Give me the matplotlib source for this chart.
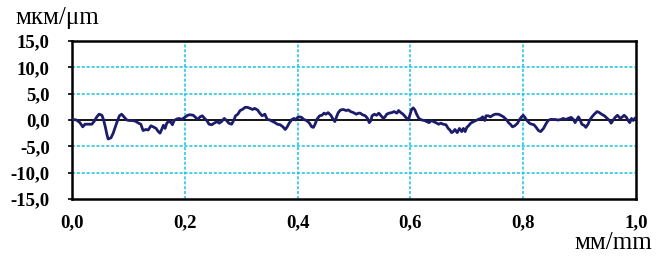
import matplotlib
matplotlib.use("Agg")
import matplotlib.pyplot as plt

# profile data (mm, µm)
x_mm = [0.002, 0.008, 0.014, 0.019, 0.023, 0.029, 0.035, 0.039, 0.044, 0.048,
        0.053, 0.056, 0.059, 0.062, 0.064, 0.069, 0.073, 0.079, 0.084, 0.088,
        0.092, 0.097, 0.102, 0.106, 0.112, 0.118, 0.122, 0.126, 0.131, 0.135,
        0.140, 0.144, 0.149, 0.153, 0.156, 0.159, 0.162, 0.165, 0.168, 0.171,
        0.175, 0.178, 0.181, 0.186, 0.190, 0.194, 0.197, 0.200, 0.205, 0.209,
        0.215, 0.219, 0.223, 0.227, 0.231, 0.235, 0.239, 0.243, 0.248, 0.252,
        0.257, 0.261, 0.265, 0.270, 0.274, 0.278, 0.283, 0.287, 0.290, 0.294,
        0.298, 0.302, 0.307, 0.311, 0.316, 0.320, 0.324, 0.329, 0.333, 0.337,
        0.342, 0.346, 0.351, 0.356, 0.360, 0.364, 0.369, 0.374, 0.378, 0.381,
        0.385, 0.390, 0.394, 0.397, 0.400, 0.403, 0.407, 0.411, 0.416, 0.421,
        0.425, 0.428, 0.431, 0.434, 0.439, 0.443, 0.447, 0.450, 0.454, 0.459,
        0.462, 0.466, 0.469, 0.472, 0.476, 0.481, 0.486, 0.490, 0.494, 0.499,
        0.504, 0.508, 0.511, 0.515, 0.520, 0.524, 0.527, 0.530, 0.532, 0.536,
        0.540, 0.544, 0.548, 0.552, 0.555, 0.558, 0.562, 0.567, 0.571, 0.576,
        0.579, 0.583, 0.587, 0.592, 0.596, 0.599, 0.602, 0.605, 0.608, 0.611,
        0.615, 0.620, 0.625, 0.629, 0.633, 0.637, 0.641, 0.645, 0.650, 0.654,
        0.658, 0.663, 0.667, 0.670, 0.673, 0.676, 0.679, 0.683, 0.687, 0.691,
        0.694, 0.697, 0.700, 0.703, 0.707, 0.712, 0.716, 0.720, 0.725, 0.728,
        0.730, 0.732, 0.734, 0.738, 0.742, 0.746, 0.750, 0.756, 0.760, 0.765,
        0.770, 0.774, 0.778, 0.781, 0.785, 0.790, 0.793, 0.797, 0.800, 0.803,
        0.806, 0.811, 0.815, 0.819, 0.823, 0.827, 0.831, 0.836, 0.840, 0.844,
        0.848, 0.856, 0.862, 0.867, 0.871, 0.875, 0.880, 0.885, 0.889, 0.892,
        0.895, 0.898, 0.901, 0.904, 0.909, 0.911, 0.915, 0.918, 0.922, 0.926,
        0.931, 0.935, 0.939, 0.944, 0.949, 0.953, 0.956, 0.959, 0.963, 0.967,
        0.972, 0.976, 0.979, 0.983, 0.986, 0.989, 0.992, 0.995, 0.998]
y_um = [0.1, 0.0, -0.5, -1.3, -0.8, -0.8, -0.8, -0.3, 0.6, 1.1,
        0.9, 0.0, -1.3, -2.8, -3.6, -3.4, -2.5, -0.6, 0.8, 1.1,
        0.6, 0.0, -0.1, -0.1, -0.2, -0.6, -0.8, -2.0, -1.8, -1.9,
        -1.1, -1.3, -1.6, -2.2, -2.5, -1.8, -1.0, -1.6, -0.6, -0.3,
        -0.4, -0.9, -0.1, 0.2, 0.3, 0.1, 0.3, 0.5, 0.9, 1.0,
        0.9, 0.5, 0.1, 0.6, 0.8, 0.3, -0.1, -0.8, -0.9, -0.6,
        -0.3, -0.6, -0.3, 0.3, -0.1, -0.6, -0.8, 0.0, 0.8, 1.1,
        1.8, 2.0, 2.4, 2.4, 2.2, 2.0, 2.2, 1.9, 1.3, 0.8,
        1.1, 0.1, 0.0, -0.3, -0.5, -0.8, -0.9, -1.3, -1.8, -1.4,
        -0.6, 0.1, 0.3, 0.0, 0.5, 0.6, 0.5, 0.1, -0.1, -0.6,
        -1.3, -1.4, -0.8, 0.1, 0.8, 0.9, 1.3, 1.1, 1.4, 0.9,
        0.3, -0.3, 0.6, 1.4, 1.9, 2.0, 1.8, 1.9, 1.6, 1.4,
        1.1, 1.3, 1.3, 1.0, 0.8, 0.3, -0.5, -0.1, 0.8, 1.1,
        0.9, 1.3, 0.8, 0.3, 0.6, 1.1, 1.3, 1.4, 1.6, 1.3,
        1.8, 1.4, 1.1, 0.5, 0.0, 0.9, 2.0, 2.3, 1.9, 1.1,
        0.3, 0.0, -0.1, -0.3, -0.5, -0.1, -0.3, -0.5, -0.8, -0.6,
        -0.8, -0.9, -1.6, -1.9, -2.4, -2.2, -1.8, -2.4, -1.6, -2.2,
        -1.6, -2.2, -1.4, -1.1, -0.6, -0.3, -0.1, 0.1, 0.3, 0.6,
        0.3, -0.1, 0.8, 0.8, 0.6, 0.9, 1.1, 1.1, 0.9, 0.6,
        0.1, -0.5, -0.9, -1.3, -1.1, -0.6, 0.0, 0.6, 0.9, 0.5,
        0.0, -0.6, -0.8, -0.9, -1.4, -2.0, -2.2, -1.6, -0.8, -0.1,
        0.1, 0.1, 0.0, 0.1, 0.3, 0.1, 0.3, 0.5, 0.1, -0.5,
        0.1, 0.6, 0.0, -0.8, -1.1, -1.4, -0.8, 0.0, 0.6, 1.1,
        1.6, 1.4, 1.1, 0.8, 0.3, -0.1, -0.6, -0.1, 0.5, 0.9,
        0.3, 0.6, 0.9, 0.5, -0.1, -0.5, 0.3, -0.1, 0.3]

x_ticks = [0.0, 0.2, 0.4, 0.6, 0.8, 1.0]
x_labels = ["0,0", "0,2", "0,4", "0,6", "0,8", "1,0"]
y_ticks = [-15, -10, -5, 0, 5, 10, 15]
y_labels = ["-15,0", "-10,0", "-5,0", "0,0", "5,0", "10,0", "15,0"]

serif = ["Liberation Serif", "DejaVu Serif"]
plt.rcParams["font.family"] = serif

fig = plt.figure(figsize=(6.65, 2.56), dpi=100)
ax = fig.add_axes([0.1083, 0.2227, 0.8481, 0.6171])

ax.set_xlim(0, 1.0)
ax.set_ylim(-15, 15)

grid_color = "#19c3e0"
for gx in x_ticks[1:-1]:
    ax.axvline(gx, color=grid_color, lw=1.1, ls=(0, (2, 1.2)), zorder=1)
for gy in y_ticks:
    if gy not in (0, -15, 15):
        ax.axhline(gy, color=grid_color, lw=1.1, ls=(0, (2, 1.2)), zorder=1)
ax.axhline(0, color="black", lw=1.3, zorder=2)

ax.plot(x_mm, y_um, color="#1c1c6b", lw=2.0, zorder=3, solid_joinstyle="round")

ax.set_xticks(x_ticks)
ax.set_xticklabels(x_labels, fontsize=13.5, fontweight="bold")
ax.set_yticks(y_ticks)
ax.set_yticklabels(y_labels, fontsize=13.5, fontweight="bold")
ax.tick_params(axis="x", length=0, pad=11)
ax.tick_params(axis="y", length=3, width=1.2, pad=13, direction="out")

for sp in ax.spines.values():
    sp.set_linewidth(1.8)
    sp.set_color("black")

fig.text(15 / 665, 1 - 18 / 256, "мкм/μm", fontsize=18, ha="left", va="center")
fig.text(652 / 665, 1 - 243 / 256, "мм/mm", fontsize=18, ha="right", va="center")

fig.savefig("out.png", dpi=100, facecolor="white")
